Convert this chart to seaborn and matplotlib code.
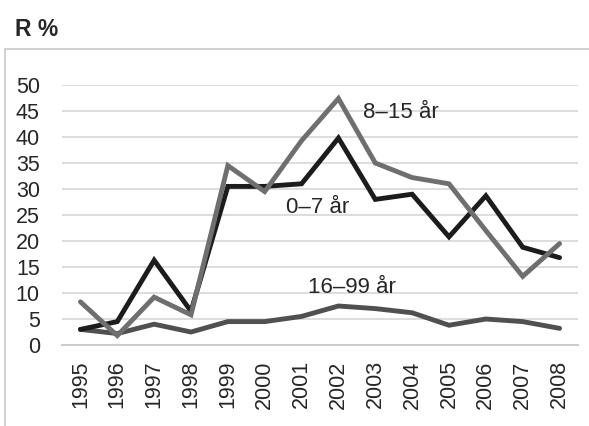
import matplotlib
matplotlib.use("Agg")
import matplotlib.pyplot as plt
from matplotlib.patches import Rectangle
import seaborn as sns
import pandas as pd

years = [str(y) for y in range(1995, 2009)]
age_0_7 = [3.0, 4.5, 16.3, 6.5, 30.5, 30.5, 31.0, 39.8, 28.0, 29.0, 20.8, 28.7, 18.8, 16.8]
age_8_15 = [8.3, 1.8, 9.2, 5.8, 34.5, 29.5, 39.3, 47.4, 35.0, 32.2, 31.0, 22.0, 13.2, 19.5]
age_16_99 = [3.0, 2.2, 4.0, 2.5, 4.5, 4.5, 5.5, 7.5, 7.0, 6.2, 3.8, 5.0, 4.5, 3.2]

series_names = ["0\u20137 år", "8\u201315 år", "16\u201399 år"]
colors = {"0\u20137 år": "#1c1c1c", "8\u201315 år": "#6f6f6f", "16\u201399 år": "#505050"}

df = pd.DataFrame({"year": years, series_names[0]: age_0_7,
                   series_names[1]: age_8_15, series_names[2]: age_16_99})
long = df.melt(id_vars="year", var_name="group", value_name="pct")
long["x"] = long["year"].map({y: i for i, y in enumerate(years)})

sns.set_style("white")
plt.rcParams["font.family"] = ["Liberation Sans", "DejaVu Sans"]

fig = plt.figure(figsize=(5.89, 4.26), dpi=100)
ax = fig.add_axes([62 / 589, 81 / 426, 516 / 589, 260 / 426])

# chart frame (top + left edges only visible)
fig.patches.append(Rectangle((5 / 589, -0.2), 1.2, (426 - 49) / 426 + 0.2,
                             transform=fig.transFigure, fill=False,
                             edgecolor="#c8c8c8", linewidth=1.2, zorder=0))

# draw order: 16-99 below, then 0-7, then 8-15
order = [series_names[2], series_names[0], series_names[1]]
for name in order:
    sub = long[long["group"] == name]
    sns.lineplot(data=sub, x="x", y="pct", ax=ax, color=colors[name],
                 linewidth=3.5, legend=False, solid_joinstyle="miter")

ax.set_xlim(-0.5, len(years) - 0.5)
ax.set_ylim(0, 50)
ax.set_yticks(range(0, 51, 5))
ax.set_yticklabels([str(v) for v in range(0, 51, 5)])
ax.set_xticks(range(len(years)))
ax.set_xticklabels(years, rotation=90)
ax.set_xticks([i - 0.5 for i in range(len(years) + 1)], minor=True)
ax.grid(axis="y", color="#dadada", linewidth=1.3)
ax.set_axisbelow(True)
for s in ["top", "right", "left"]:
    ax.spines[s].set_visible(False)
ax.spines["bottom"].set_color("#c8c8c8")
ax.spines["bottom"].set_linewidth(1.3)
ax.tick_params(axis="y", length=0, pad=16, labelsize=15.5, labelcolor="#262626")
ax.tick_params(axis="x", which="major", length=0, pad=11, labelsize=15.5,
               labelcolor="#262626")
ax.tick_params(axis="x", which="minor", length=7, width=1.3, color="#c8c8c8",
               direction="out")
ax.set_xlabel("")
ax.set_ylabel("")

ax.text(7.67, 44.8, series_names[1], fontsize=16, va="center", ha="left")
ax.text(5.58, 26.5, series_names[0], fontsize=16, va="center", ha="left")
ax.text(6.18, 11.0, series_names[2], fontsize=16, va="center", ha="left")

fig.text(15 / 589, 1 - 30 / 426, "R %", fontsize=16.5, fontweight="bold",
         va="center", ha="left")

fig.savefig("out.png", dpi=100)
